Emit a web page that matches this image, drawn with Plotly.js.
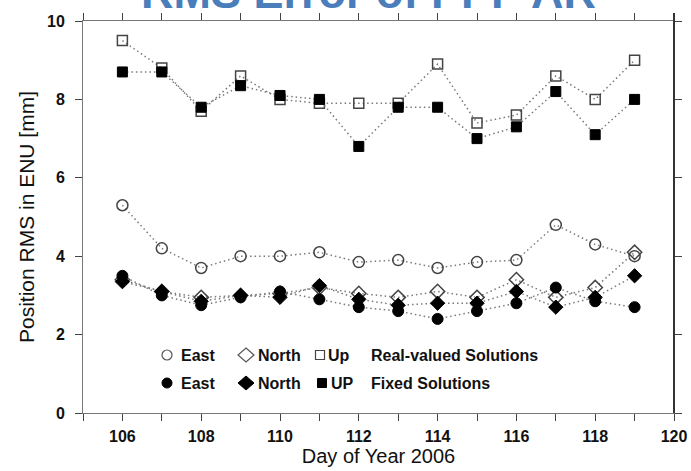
<!DOCTYPE html>
<html>
<head>
<meta charset="utf-8">
<script src="https://cdn.plot.ly/plotly-3.0.1.min.js"></script>
<style>html,body{margin:0;padding:0;background:#fff;}#chart{width:691px;height:471px;}</style>
</head>
<body>
<div id="chart"></div>
<script>
// ---- data ----
const days = [106,107,108,109,110,111,112,113,114,115,116,117,118,119];
const eastReal  = [5.3,4.2,3.7,4.0,4.0,4.1,3.85,3.9,3.7,3.85,3.9,4.8,4.3,4.0];
const northReal = [3.4,3.1,2.95,3.0,3.05,3.2,3.05,2.95,3.1,2.95,3.4,2.95,3.2,4.1];
const upReal    = [9.5,8.8,7.7,8.6,8.0,7.9,7.9,7.9,8.9,7.4,7.6,8.6,8.0,9.0];
const eastFixed  = [3.5,3.0,2.75,2.95,3.1,2.9,2.7,2.6,2.4,2.6,2.8,3.2,2.85,2.7];
const northFixed = [3.35,3.1,2.85,3.0,2.95,3.25,2.9,2.75,2.8,2.8,3.1,2.7,2.95,3.5];
const upFixed    = [8.7,8.7,7.8,8.35,8.1,8.0,6.8,7.8,7.8,7.0,7.3,8.2,7.1,8.0];
const seriesNames = ['East','North','Up','East','North','UP'];
const groupLabels = ['Real-valued Solutions','Fixed Solutions'];
const titleText = 'RMS Error of PPP AR';
const xTitle = 'Day of Year 2006';
const yTitle = 'Position RMS in ENU [mm]';

// ---- layout geometry ----
const W = 691, H = 471;
const M = {l:83, r:17, t:21, b:58};
const PW = W - M.l - M.r, PH = H - M.t - M.b;
const px = x => (x - M.l) / PW;          // pixel -> paper x
const py = y => (M.t + PH - y) / PH;     // pixel -> paper y

const FAM = 'Liberation Sans, Arial, sans-serif';
const lineStyle = {color:'#7a7a7a', width:1.5, dash:'1.5px,3px'};
function tr(y, symbol, filled, size) {
  return {
    x: days, y: y, type:'scatter', mode:'lines+markers', showlegend:false,
    line: lineStyle,
    marker: filled ? {symbol: symbol, size: size, color:'#000', line:{color:'#000', width:1}}
                   : {symbol: symbol + '-open', size: size, color:'#444', line:{color:'#444', width:1.5}},
    hoverinfo:'x+y'
  };
}
const data = [
  tr(eastReal,'circle',false,11),
  tr(northReal,'diamond',false,11),
  tr(upReal,'square',false,10),
  tr(eastFixed,'circle',true,11),
  tr(northFixed,'diamond',true,11),
  tr(upFixed,'square',true,10)
];

const tickFont = {family:FAM, size:16, color:'#111', weight:'bold'};
const legFont = {family:FAM, size:16, color:'#111', weight:'bold'};

const annotations = [
  {text:titleText, xref:'paper', yref:'paper', x:px(368), y:1, xanchor:'center', yanchor:'bottom', yshift:1,
   showarrow:false, font:{family:FAM, size:45, color:'#4A7EBB', weight:'bold'}}
];
// legend texts
const rows = [355, 383];
const textX = [[179,256,326,369],[179,256,329,369]];
for (let r = 0; r < 2; r++) {
  for (let k = 0; k < 3; k++) {
    annotations.push({text:seriesNames[r*3+k], xref:'paper', yref:'paper', x:px(textX[r][k]), y:py(rows[r]),
      xanchor:'left', yanchor:'middle', showarrow:false, font:legFont});
  }
  annotations.push({text:groupLabels[r], xref:'paper', yref:'paper', x:px(textX[r][3]), y:py(rows[r]),
    xanchor:'left', yanchor:'middle', showarrow:false, font:legFont});
}

// legend symbols as shapes (pixel-defined, converted to paper)
const shapes = [];
function circ(cx, cy, r, filled) {
  shapes.push({type:'circle', xref:'paper', yref:'paper', x0:px(cx-r), x1:px(cx+r), y0:py(cy+r), y1:py(cy-r),
    line:{color: filled ? '#000' : '#555', width: filled ? 1 : 1.2}, fillcolor: filled ? '#000' : 'rgba(0,0,0,0)'});
}
function diam(cx, cy, hw, hh, filled) {
  const p = 'M'+px(cx)+','+py(cy-hh)+' L'+px(cx+hw)+','+py(cy)+' L'+px(cx)+','+py(cy+hh)+' L'+px(cx-hw)+','+py(cy)+' Z';
  shapes.push({type:'path', xref:'paper', yref:'paper', path:p,
    line:{color: filled ? '#000' : '#555', width: filled ? 1 : 1.2}, fillcolor: filled ? '#000' : 'rgba(0,0,0,0)'});
}
function sq(cx, cy, h, filled) {
  shapes.push({type:'rect', xref:'paper', yref:'paper', x0:px(cx-h), x1:px(cx+h), y0:py(cy+h), y1:py(cy-h),
    line:{color: filled ? '#000' : '#444', width: filled ? 1 : 1.2}, fillcolor: filled ? '#000' : 'rgba(0,0,0,0)'});
}
circ(167, rows[0], 5, false); diam(246, rows[0], 8, 7, false); sq(320, rows[0], 4.5, false);
circ(167, rows[1], 5, true);  diam(246, rows[1], 8, 7, true);  sq(322, rows[1], 4.5, true);
// darker right frame
shapes.push({type:'line', xref:'paper', yref:'paper', x0:1, x1:1, y0:0, y1:1+8/PH, line:{color:'#333', width:2}});

const layout = {
  width:W, height:H, margin:M, paper_bgcolor:'#fff', plot_bgcolor:'#fff',
  showlegend:false,
  xaxis:{range:[105,120], dtick:2, tick0:106, ticks:'outside', ticklen:7, tickwidth:1, tickcolor:'#444',
    showline:true, linecolor:'#777', linewidth:1, mirror:'ticks', showgrid:false, zeroline:false,
    minor:{dtick:1, ticks:'outside', ticklen:7, tickwidth:1, tickcolor:'#444', showgrid:false},
    tickfont:tickFont, ticklabelstandoff:2,
    title:{text:xTitle, font:{family:FAM, size:20, color:'#111'}, standoff:4}},
  yaxis:{range:[0,10], dtick:2, ticks:'outside', ticklen:7, tickwidth:1, tickcolor:'#444',
    showline:true, linecolor:'#777', linewidth:1, mirror:'ticks', showgrid:false, zeroline:false,
    tickfont:tickFont, ticklabelstandoff:7,
    title:{text:yTitle, font:{family:FAM, size:21, color:'#111'}, standoff:6}},
  annotations:annotations, shapes:shapes
};
Plotly.newPlot('chart', data, layout, {displayModeBar:false, staticPlot:true});
</script>
</body>
</html>
